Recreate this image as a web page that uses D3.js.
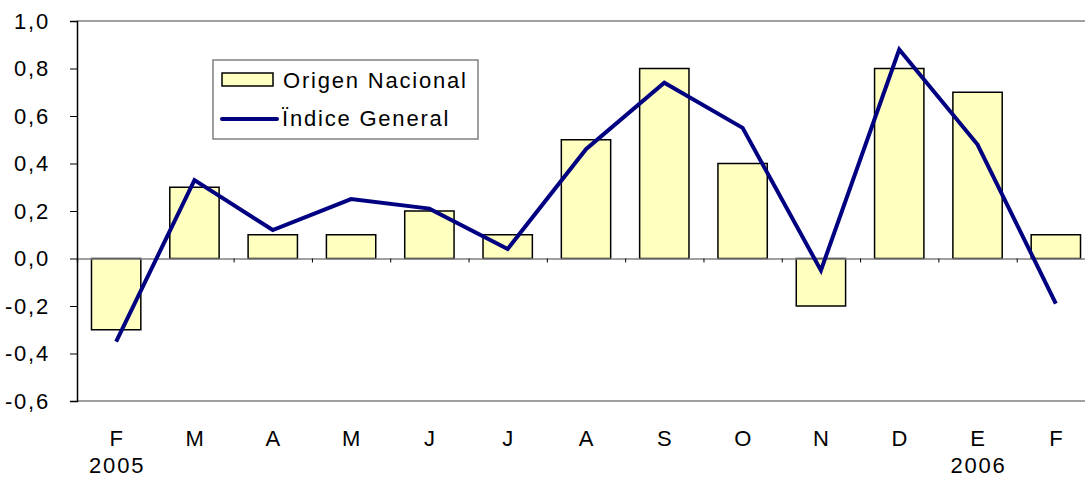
<!DOCTYPE html>
<html>
<head>
<meta charset="utf-8">
<script src="https://cdn.jsdelivr.net/npm/d3@7"></script>
<style>
  body { margin: 0; background: #fff; }
  text { font-family: "Liberation Sans", Arial, sans-serif; fill: #000; letter-spacing: 1.8px; }
</style>
</head>
<body>
<svg id="chart" width="1085" height="477"></svg>
<script>
const months = ['F', 'M', 'A', 'M', 'J', 'J', 'A', 'S', 'O', 'N', 'D', 'E', 'F'];
const years = ['2005', '', '', '', '', '', '', '', '', '', '', '2006', ''];
const origenNacional = [-0.3, 0.3, 0.1, 0.1, 0.2, 0.1, 0.5, 0.8, 0.4, -0.2, 0.8, 0.7, 0.1];
const indiceGeneral = [-0.35, 0.33, 0.12, 0.25, 0.21, 0.04, 0.46, 0.74, 0.55, -0.05, 0.88, 0.48, -0.19];
const yTicks = [-0.6, -0.4, -0.2, 0, 0.2, 0.4, 0.6, 0.8, 1.0];

const margin = { top: 21, right: -10, bottom: 76, left: 77 };
const svg = d3.select('#chart');
const width = 1085 - margin.left - margin.right;
const height = 477 - margin.top - margin.bottom;

const g = svg.append('g')
  .attr('transform', `translate(${margin.left},${margin.top})`);

const idx = months.map((d, i) => i);
const x = d3.scaleBand().domain(idx).range([0, width]).paddingInner(0).paddingOuter(0);
const y = d3.scaleLinear().domain([-0.6, 1.0]).range([height, 0]);
const fmt = d => d3.format('.1f')(d).replace('.', ',').replace('\u2212', '-');

// plot area top/bottom border
g.append('line').attr('x1', 0).attr('x2', width).attr('y1', 0).attr('y2', 0)
  .attr('stroke', '#808080').attr('stroke-width', 1.5);
g.append('line').attr('x1', 0).attr('x2', width).attr('y1', height).attr('y2', height)
  .attr('stroke', '#808080').attr('stroke-width', 1.5);

// bars
const barW = x.bandwidth() * 0.63;
g.selectAll('.bar')
  .data(origenNacional)
  .enter()
  .append('rect')
  .attr('class', 'bar')
  .attr('x', (d, i) => x(i) + (x.bandwidth() - barW) / 2)
  .attr('y', d => y(Math.max(0, d)))
  .attr('width', barW)
  .attr('height', d => Math.abs(y(d) - y(0)))
  .attr('fill', '#FFFFC0')
  .attr('stroke', '#000')
  .attr('stroke-width', 1.5);

// zero line with ticks between categories
const xAxis = d3.axisBottom(d3.scaleLinear().domain([0, months.length]).range([0, width]))
  .tickValues(d3.range(0, months.length + 1))
  .tickSize(4)
  .tickFormat('');
g.append('g')
  .attr('transform', `translate(0,${y(0)})`)
  .call(xAxis)
  .call(s => s.select('.domain').attr('stroke', '#808080').attr('stroke-width', 1.5))
  .call(s => s.selectAll('.tick line').attr('stroke', '#000'));

// y axis
g.append('g')
  .call(d3.axisLeft(y).tickValues(yTicks).tickSize(7).tickPadding(20).tickFormat(fmt))
  .call(s => s.select('.domain').attr('stroke', '#000').attr('stroke-width', 1.5))
  .call(s => s.selectAll('.tick line').attr('stroke', '#000'))
  .call(s => s.selectAll('.tick text')
    .style('font-family', '"Liberation Sans", Arial, sans-serif')
    .style('font-size', '22px').attr('fill', '#000'));

// line
const line = d3.line()
  .x((d, i) => x(i) + x.bandwidth() / 2)
  .y(d => y(d));
g.append('path')
  .datum(indiceGeneral)
  .attr('d', line)
  .attr('fill', 'none')
  .attr('stroke', '#000080')
  .attr('stroke-width', 4)
  .attr('stroke-linejoin', 'miter');

// category labels
g.selectAll('.month')
  .data(months)
  .enter()
  .append('text')
  .attr('class', 'month')
  .attr('x', (d, i) => x(i) + x.bandwidth() / 2 + 1)
  .attr('y', height + 45)
  .attr('text-anchor', 'middle')
  .style('font-size', '22px')
  .text(d => d);

g.selectAll('.year')
  .data(years)
  .enter()
  .append('text')
  .attr('class', 'year')
  .attr('x', (d, i) => x(i) + x.bandwidth() / 2 + 1)
  .attr('y', height + 72)
  .attr('text-anchor', 'middle')
  .style('font-size', '22px')
  .text(d => d);

// legend
const legend = svg.append('g').attr('transform', 'translate(213,60)');
legend.append('rect')
  .attr('width', 265).attr('height', 79)
  .attr('fill', '#fff').attr('stroke', '#808080').attr('stroke-width', 1.5);
legend.append('rect')
  .attr('x', 9).attr('y', 13).attr('width', 51).attr('height', 13)
  .attr('fill', '#FFFFC0').attr('stroke', '#000').attr('stroke-width', 1.5);
legend.append('text')
  .attr('x', 70).attr('y', 28)
  .style('font-size', '22px')
  .text('Origen Nacional');
legend.append('line')
  .attr('x1', 9).attr('x2', 64).attr('y1', 59).attr('y2', 59)
  .attr('stroke', '#000080').attr('stroke-width', 4).attr('stroke-linecap', 'round');
legend.append('text')
  .attr('x', 69).attr('y', 66)
  .style('font-size', '22px')
  .text('Ïndice General');
</script>
</body>
</html>
